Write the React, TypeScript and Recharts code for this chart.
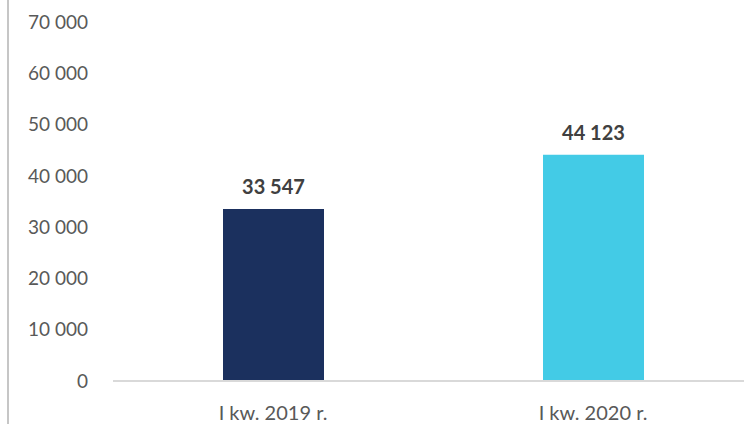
import React from "react";
import { Bar, BarChart, Cell, LabelList, XAxis, YAxis } from "recharts";

const categories = ["I kw. 2019 r.", "I kw. 2020 r."];
const values = [33547, 44123];
const barColors = ["#1b305e", "#43cbe6"];
const yTicks = [0, 10000, 20000, 30000, 40000, 50000, 60000, 70000];

const data = categories.map((label, i) => ({ label, value: values[i] }));

const fmt = (n: number) => String(n).replace(/\B(?=(\d{3})+(?!\d))/g, " ");

const font = "Lato, 'Open Sans', sans-serif";

export default function App() {
  return (
    <div style={{ position: "absolute", left: 0, top: 0, width: 744, height: 424, overflow: "hidden", background: "#fff", fontFamily: font }}>
      <div style={{ position: "absolute", left: 7, top: 0, width: 2, height: 424, background: "#c6c6c6" }} />
      <BarChart width={753} height={424} data={data} margin={{ top: 22, right: 0, left: 0, bottom: 13 }} barSize={101}>
        <XAxis
          dataKey="label"
          tickLine={false}
          axisLine={{ stroke: "#d9d9d9", strokeWidth: 2 }}
          tick={{ fill: "#595959", fontSize: 20, fontFamily: font }}
          tickMargin={19}
          interval={0}
        />
        <YAxis
          width={113}
          domain={[0, 70000]}
          ticks={yTicks}
          tickFormatter={fmt}
          axisLine={false}
          tickLine={false}
          tickSize={0}
          tickMargin={25}
          tick={{ fill: "#595959", fontSize: 19, fontFamily: font }}
        />
        <Bar dataKey="value" isAnimationActive={false}>
          {data.map((d, i) => (
            <Cell key={d.label} fill={barColors[i]} />
          ))}
          <LabelList dataKey="value" position="top" offset={15} formatter={(v: any) => fmt(Number(v))} style={{ fill: "#404040", fontSize: 20, fontWeight: 700, fontFamily: font }} />
        </Bar>
      </BarChart>
    </div>
  );
}
